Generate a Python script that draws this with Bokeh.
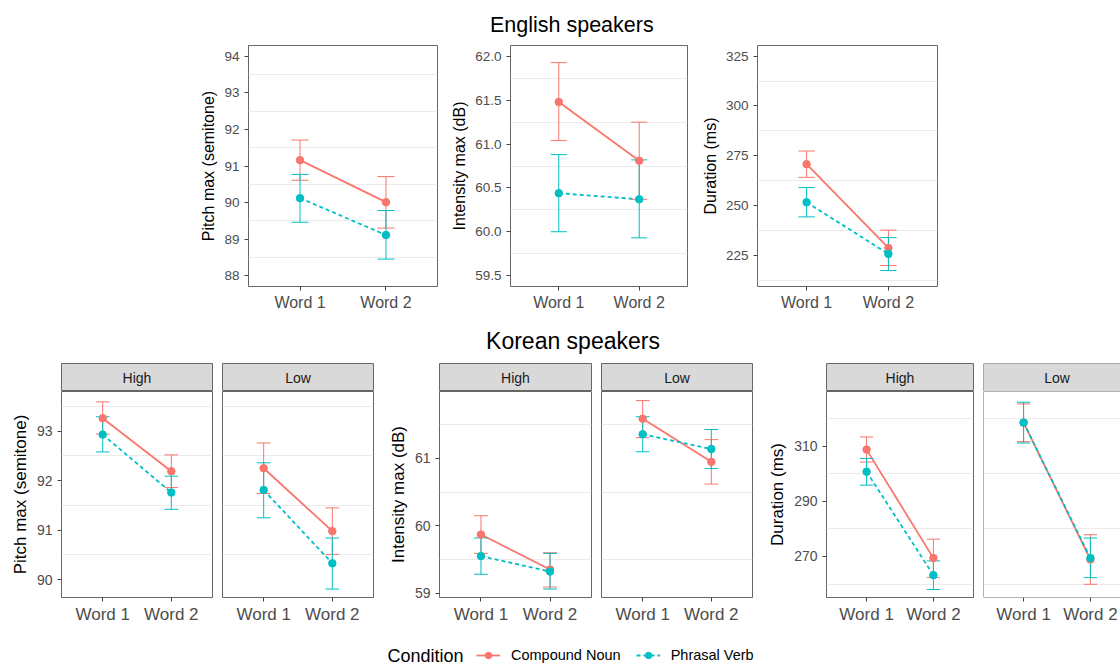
from bokeh.plotting import figure
from bokeh.layouts import row, column
from bokeh.models import (Range1d, FixedTicker, PrintfTickFormatter, Span, Legend,
                          LegendItem, Grid)
from bokeh.core.properties import value
from bokeh.embed import file_html
from bokeh.resources import INLINE

# ---------------- data ----------------
words = ["Word 1", "Word 2"]
conditions = ["Compound Noun", "Phrasal Verb"]
facets = ["High", "Low"]

# English speakers (mean, lower CI, upper CI per word)
en_pitch_cn = [91.16, 90.01]
en_pitch_cn_lo = [90.61, 89.30]
en_pitch_cn_hi = [91.71, 90.71]
en_pitch_pv = [90.12, 89.11]
en_pitch_pv_lo = [89.46, 88.45]
en_pitch_pv_hi = [90.77, 89.78]

en_int_cn = [61.48, 60.81]
en_int_cn_lo = [61.04, 60.37]
en_int_cn_hi = [61.93, 61.25]
en_int_pv = [60.44, 60.37]
en_int_pv_lo = [60.00, 59.93]
en_int_pv_hi = [60.88, 60.82]

en_dur_cn = [270.8, 228.8]
en_dur_cn_lo = [264.2, 220.0]
en_dur_cn_hi = [277.4, 237.7]
en_dur_pv = [251.7, 225.8]
en_dur_pv_lo = [244.4, 217.5]
en_dur_pv_hi = [259.1, 234.0]

# Korean speakers, facet High
ko_pitch_high_cn = [93.26, 92.19]
ko_pitch_high_cn_lo = [92.94, 91.86]
ko_pitch_high_cn_hi = [93.59, 92.52]
ko_pitch_high_pv = [92.93, 91.76]
ko_pitch_high_pv_lo = [92.58, 91.42]
ko_pitch_high_pv_hi = [93.29, 92.09]
# Korean speakers, facet Low
ko_pitch_low_cn = [92.25, 90.98]
ko_pitch_low_cn_lo = [91.74, 90.51]
ko_pitch_low_cn_hi = [92.76, 91.45]
ko_pitch_low_pv = [91.81, 90.33]
ko_pitch_low_pv_lo = [91.25, 89.81]
ko_pitch_low_pv_hi = [92.36, 90.84]

ko_int_high_cn = [59.87, 59.35]
ko_int_high_cn_lo = [59.59, 59.09]
ko_int_high_cn_hi = [60.15, 59.60]
ko_int_high_pv = [59.55, 59.32]
ko_int_high_pv_lo = [59.28, 59.06]
ko_int_high_pv_hi = [59.82, 59.59]
ko_int_low_cn = [61.59, 60.95]
ko_int_low_cn_lo = [61.31, 60.62]
ko_int_low_cn_hi = [61.86, 61.28]
ko_int_low_pv = [61.36, 61.14]
ko_int_low_pv_lo = [61.10, 60.85]
ko_int_low_pv_hi = [61.62, 61.43]

ko_dur_high_cn = [308.8, 269.4]
ko_dur_high_cn_lo = [304.3, 262.4]
ko_dur_high_cn_hi = [313.4, 276.3]
ko_dur_high_pv = [300.8, 263.2]
ko_dur_high_pv_lo = [295.9, 258.0]
ko_dur_high_pv_hi = [305.6, 268.4]
ko_dur_low_cn = [318.6, 268.9]
ko_dur_low_cn_lo = [311.7, 259.9]
ko_dur_low_cn_hi = [325.4, 277.9]
ko_dur_low_pv = [318.6, 269.4]
ko_dur_low_pv_lo = [311.2, 262.3]
ko_dur_low_pv_hi = [326.0, 276.7]

# tick labels
en_pitch_ticks = [88, 89, 90, 91, 92, 93, 94]
en_int_ticks = [59.5, 60.0, 60.5, 61.0, 61.5, 62.0]
en_dur_ticks = [225, 250, 275, 300, 325]
ko_pitch_ticks = [90, 91, 92, 93]
ko_int_ticks = [59, 60, 61]
ko_dur_ticks = [270, 290, 310]

# ---------------- style ----------------
RED, TEAL = "#F8766D", "#00BFC4"
FONT = "Liberation Sans"
GRID = "#EBEBEB"
DARK = "#444444"
BORDER = "#666666"
TICKTXT = "#4D4D4D"
styles = [(RED, "solid"), (TEAL, "4 3")]
xs = list(range(1, len(words) + 1))
X0, X1 = 0.4, len(words) + 0.6
CAP = 0.1
PAGE_W = 1120


def halves(ticks):
    step = ticks[1] - ticks[0]
    return [t - step / 2 for t in ticks] + [ticks[-1] + step / 2]


def make_panel(fw, fh, ml, mr, mt, mb, yr, ticks, fmt, ylabel, series,
               x_end=None, tick_fs="13.5px", word_fs="16px", label_fs="16px",
               outline=True):
    show_y = ylabel is not None
    p = figure(frame_width=fw, frame_height=fh,
               min_border_left=ml, min_border_right=mr,
               min_border_top=mt, min_border_bottom=mb,
               x_range=Range1d(X0, x_end if x_end else X1),
               y_range=Range1d(*yr),
               y_axis_location="left" if show_y else None,
               toolbar_location=None, output_backend="svg")
    p.background_fill_color = "white"
    p.border_fill_color = "white"
    p.outline_line_color = BORDER if outline else None
    p.outline_line_width = 1
    minor = halves(ticks)
    p.xgrid.visible = False
    grids = list(p.ygrid)
    if not grids:
        g = Grid(dimension=1)
        p.add_layout(g, "center")
        grids = [g]
    for g in grids:
        g.ticker = FixedTicker(ticks=ticks, minor_ticks=minor)
        g.grid_line_color = None
        g.minor_grid_line_color = GRID
        g.minor_grid_line_width = 1

    for (m, lo, hi), (c, d) in zip(series, styles):
        p.line(xs, m, line_color=c, line_width=1.8, line_dash=d)
    for (m, lo, hi), (c, d) in zip(series, styles):
        cx0 = [x - CAP for x in xs]
        cx1 = [x + CAP for x in xs]
        p.segment(xs, lo, xs, hi, line_color=c, line_width=1)
        p.segment(cx0, lo, cx1, lo, line_color=c, line_width=1)
        p.segment(cx0, hi, cx1, hi, line_color=c, line_width=1)
    for (m, lo, hi), (c, d) in zip(series, styles):
        p.scatter(xs, m, size=7.5, fill_color=c, line_color=c)

    ax = p.xaxis[0]
    ax.ticker = FixedTicker(ticks=xs)
    ax.major_label_overrides = dict(zip(xs, words))
    ax.axis_line_color = None
    ax.major_tick_line_color = DARK
    ax.major_tick_out = 4
    ax.major_tick_in = 0
    ax.minor_tick_line_color = None
    ax.major_label_text_font = FONT
    ax.major_label_text_font_size = word_fs
    ax.major_label_text_color = TICKTXT
    ax.major_label_standoff = 3
    if show_y:
        ay = p.yaxis[0]
        ay.ticker = FixedTicker(ticks=ticks, minor_ticks=minor)
        ay.formatter = PrintfTickFormatter(format=fmt)
        ay.axis_line_color = None
        ay.major_tick_line_color = DARK
        ay.major_tick_out = 4
        ay.major_tick_in = 0
        ay.minor_tick_line_color = None
        ay.major_label_text_font = FONT
        ay.major_label_text_font_size = tick_fs
        ay.major_label_text_color = TICKTXT
        ay.major_label_standoff = 5
        ay.axis_label = ylabel
        ay.axis_label_text_font = FONT
        ay.axis_label_text_font_size = label_fs
        ay.axis_label_text_font_style = "normal"
        ay.axis_label_text_color = "black"
        ay.axis_label_standoff = 4
    if not outline:
        p.add_layout(Span(location=X0, dimension="height", line_color=BORDER, line_width=1))
        p.add_layout(Span(location=yr[0], dimension="width", line_color=BORDER, line_width=1))
        p.add_layout(Span(location=yr[1], dimension="width", line_color=BORDER, line_width=1))
    return p


def make_strip(fw, ml, mr, label, x_end=None, outline=True, fs="14px"):
    s = figure(frame_width=fw, frame_height=28,
               min_border_left=ml, min_border_right=mr,
               min_border_top=8, min_border_bottom=0,
               x_range=Range1d(X0, x_end if x_end else X1), y_range=Range1d(0, 1),
               x_axis_location=None, y_axis_location=None,
               toolbar_location=None, output_backend="svg")
    s.grid.visible = False
    s.background_fill_color = "#D9D9D9"
    s.border_fill_color = "white"
    s.outline_line_color = BORDER if outline else None
    if not outline:
        s.add_layout(Span(location=X0, dimension="height", line_color=BORDER, line_width=1))
        s.add_layout(Span(location=0, dimension="width", line_color=BORDER, line_width=1))
        s.add_layout(Span(location=1, dimension="width", line_color=BORDER, line_width=1))
    s.text(x=[(X0 + X1) / 2], y=[0.5], text=[label], text_align="center",
           text_baseline="middle", text_font=value(FONT), text_font_size=fs,
           text_color="#1A1A1A")
    return s


def make_title(h, text, x, y, fs):
    t = figure(frame_width=PAGE_W, frame_height=h,
               min_border_left=0, min_border_right=0, min_border_top=0, min_border_bottom=0,
               x_range=Range1d(0, PAGE_W), y_range=Range1d(h, 0),
               x_axis_location=None, y_axis_location=None,
               toolbar_location=None, output_backend="svg")
    t.grid.visible = False
    t.outline_line_color = None
    t.text(x=[x], y=[y], text=[text], text_align="center", text_baseline="middle",
           text_font=value(FONT), text_font_size=fs, text_color="black")
    return t


# ---------------- top row (English) ----------------
TOP_H, TOP_T, TOP_B = 241, 5, 34
pA = make_panel(189, TOP_H, 248, 5, TOP_T, TOP_B, (87.7, 94.3), en_pitch_ticks, "%d",
                "Pitch max (semitone)",
                [(en_pitch_cn, en_pitch_cn_lo, en_pitch_cn_hi),
                 (en_pitch_pv, en_pitch_pv_lo, en_pitch_pv_hi)])
pB = make_panel(177, TOP_H, 68, 5, TOP_T, TOP_B, (59.375, 62.125), en_int_ticks, "%.1f",
                "Intensity max (dB)",
                [(en_int_cn, en_int_cn_lo, en_int_cn_hi),
                 (en_int_pv, en_int_pv_lo, en_int_pv_hi)])
pC = make_panel(180, TOP_H, 65, 183, TOP_T, TOP_B, (209.5, 330.3), en_dur_ticks, "%d",
                "Duration (ms)",
                [(en_dur_cn, en_dur_cn_lo, en_dur_cn_hi),
                 (en_dur_pv, en_dur_pv_lo, en_dur_pv_hi)])

# ---------------- bottom row (Korean) ----------------
BH, BB = 206, 39
KW = dict(tick_fs="14px", word_fs="17px", label_fs="17px")
ko_specs = [
    # (ml, fw, mr, yr, ticks, ylabel, facet, series)
    (61, 151, 5, (89.64, 93.80), ko_pitch_ticks, "Pitch max (semitone)", facets[0],
     [(ko_pitch_high_cn, ko_pitch_high_cn_lo, ko_pitch_high_cn_hi),
      (ko_pitch_high_pv, ko_pitch_high_pv_lo, ko_pitch_high_pv_hi)]),
    (5, 151, 5, (89.64, 93.80), ko_pitch_ticks, None, facets[1],
     [(ko_pitch_low_cn, ko_pitch_low_cn_lo, ko_pitch_low_cn_hi),
      (ko_pitch_low_pv, ko_pitch_low_pv_lo, ko_pitch_low_pv_hi)]),
    (61, 152, 5, (58.935, 61.995), ko_int_ticks, "Intensity max (dB)", facets[0],
     [(ko_int_high_cn, ko_int_high_cn_lo, ko_int_high_cn_hi),
      (ko_int_high_pv, ko_int_high_pv_lo, ko_int_high_pv_hi)]),
    (5, 151, 5, (58.935, 61.995), ko_int_ticks, None, facets[1],
     [(ko_int_low_cn, ko_int_low_cn_lo, ko_int_low_cn_hi),
      (ko_int_low_pv, ko_int_low_pv_lo, ko_int_low_pv_hi)]),
    (69, 147, 5, (255.1, 329.9), ko_dur_ticks, "Duration (ms)", facets[0],
     [(ko_dur_high_cn, ko_dur_high_cn_lo, ko_dur_high_cn_hi),
      (ko_dur_high_pv, ko_dur_high_pv_lo, ko_dur_high_pv_hi)]),
]
cols = []
for ml, fw, mr, yr, ticks, ylab, fac, ser in ko_specs:
    s = make_strip(fw, ml, mr, fac)
    p = make_panel(fw, BH, ml, mr, 0, BB, yr, ticks, "%d", ylab, ser, **KW)
    cols.append(column(s, p))

# last facet is cut by the page edge: same scale as its neighbour, narrower frame
DL_FW, DH_FW = 137, 147
dl_end = X0 + DL_FW * (X1 - X0) / DH_FW
s = make_strip(DL_FW, 5, 0, facets[1], x_end=dl_end, outline=False)
p = make_panel(DL_FW, BH, 5, 0, 0, BB, (255.1, 329.9), ko_dur_ticks, "%d", None,
               [(ko_dur_low_cn, ko_dur_low_cn_lo, ko_dur_low_cn_hi),
                (ko_dur_low_pv, ko_dur_low_pv_lo, ko_dur_low_pv_hi)],
               x_end=dl_end, outline=False, **KW)
cols.append(column(s, p))

# ---------------- titles ----------------
t1 = make_title(40, "English speakers", 571.3, 24.2, "21.5px")
t2 = make_title(35, "Korean speakers", 572.5, 20.4, "23px")

# ---------------- legend ----------------
LG_H = 28
lg = figure(frame_width=PAGE_W, frame_height=LG_H,
            min_border_left=0, min_border_right=0, min_border_top=0, min_border_bottom=0,
            x_range=Range1d(0, PAGE_W), y_range=Range1d(LG_H, 0),
            x_axis_location=None, y_axis_location=None,
            toolbar_location=None, output_backend="svg")
lg.grid.visible = False
lg.outline_line_color = None
items = []
for cond, (c, d), m in zip(conditions, styles, [en_pitch_cn, en_pitch_pv]):
    r1 = lg.line(xs, m, line_color=c, line_width=1.8, line_dash=d)
    r2 = lg.scatter(xs, m, size=7.5, fill_color=c, line_color=c)
    items.append(LegendItem(label=cond, renderers=[r1, r2]))
lg.text(x=[387], y=[19], text=["Condition"], text_align="left",
        text_baseline="middle", text_font=value(FONT), text_font_size="18px",
        text_color="black")
leg = Legend(items=items, orientation="horizontal", location=(476, 1),
             glyph_width=24, glyph_height=16, label_height=16,
             label_standoff=11, spacing=15, padding=0, margin=0,
             border_line_color=None, background_fill_alpha=0,
             label_text_font=FONT, label_text_font_size="14.5px",
             label_text_color="black")
lg.add_layout(leg)

layout = column(t1, row(pA, pB, pC), t2, row(*cols), lg)

html = file_html(layout, INLINE, title="Speakers")
open("out.html", "w").write(html)
